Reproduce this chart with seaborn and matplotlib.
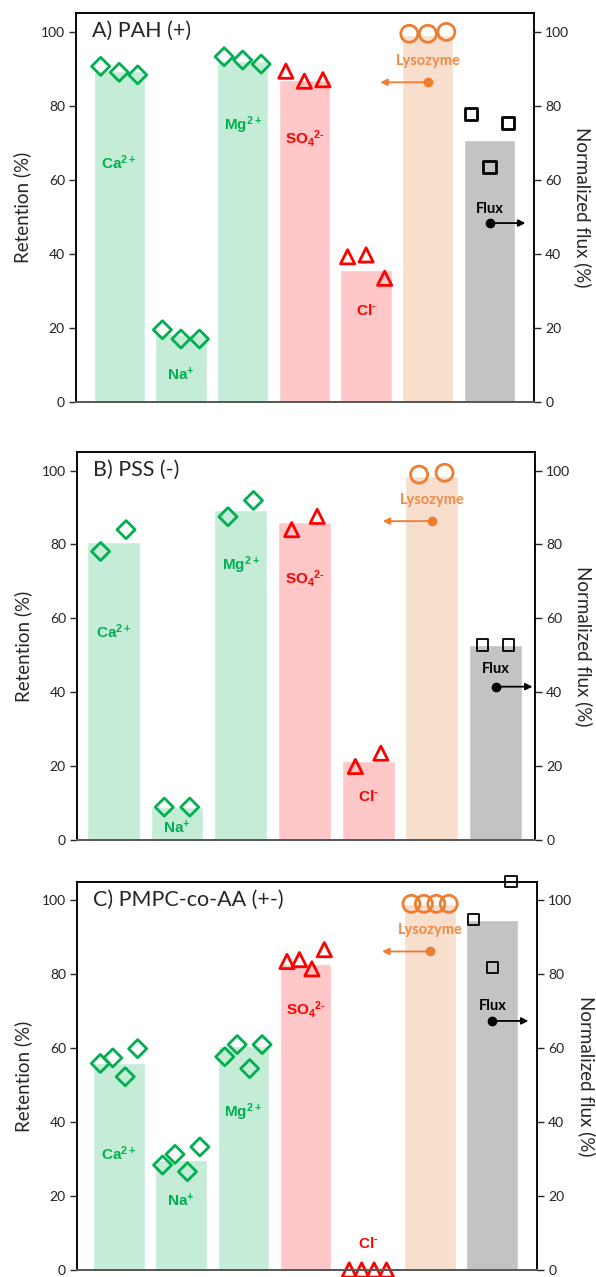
import numpy as np
import pandas as pd
import matplotlib
matplotlib.use("Agg")
import matplotlib.pyplot as plt
import seaborn as sns

sns.set_theme(style="white")
plt.rcParams["font.family"] = ["Lato", "DejaVu Sans"]
plt.rcParams["mathtext.default"] = "regular"
plt.rcParams["mathtext.fontset"] = "custom"
plt.rcParams["mathtext.rm"] = "Liberation Sans:bold"

# species in bar order
species = ["Ca", "Na", "Mg", "SO4", "Cl", "Lysozyme", "Flux"]
labels = ["Ca$^{2+}$", "Na$^{+}$", "Mg$^{2+}$", r"SO$_4$$^{\text{2-}}$", r"Cl$^{\text{-}}$",
          "Lysozyme", "Flux"]
titles = ["A) PAH (+)", "B) PSS (-)", "C) PMPC-co-AA (+-)"]

# bar heights (mean retention %, last = normalized flux %)
pah_bar = [89.3, 18.4, 92.0, 86.8, 35.7, 99.0, 70.8]
pss_bar = [80.7, 9.0, 89.4, 86.1, 21.5, 98.6, 52.8]
pmpc_bar = [55.9, 29.7, 60.5, 82.9, 0.0, 99.1, 94.8]

# individual measurements
pah_pts = [[90.6, 89.0, 88.3], [19.5, 17.0, 17.0], [93.2, 92.3, 91.2],
           [89.3, 86.6, 87.0], [39.2, 39.7, 33.4], [99.4, 99.4, 99.9],
           [77.8, 63.4, 75.3]]
pss_pts = [[78.1, 84.0], [8.9, 8.9], [87.5, 91.9], [84.0, 87.6],
           [19.9, 23.5], [98.9, 99.4], [52.8, 52.8]]
pmpc_pts = [[55.9, 57.4, 52.3, 59.9], [28.4, 31.3, 26.6, 33.3],
            [57.7, 61.0, 54.5, 61.0], [83.5, 84.0, 81.5, 86.7],
            [0.0, 0.0, 0.0, 0.0], [99.1, 99.1, 99.1, 99.1],
            [94.8, 81.8, 105.1]]

# label heights and arrow heights (data units)
pah_lab = [64.6, 7.3, 74.6, 71.0, 24.6, 92.0, 52.0]
pss_lab = [56.4, 3.4, 74.5, 70.7, 11.7, 91.9, 46.3]
pmpc_lab = [31.5, 18.7, 42.6, 70.5, 7.2, 91.9, 71.4]
pah_arrow = [86.3, 48.3]
pss_arrow = [86.3, 41.5]
pmpc_arrow = [86.2, 67.4]

green, red, orange = "#00B050", "#FF0000", "#ED7D31"
bar_colors = ["#C5ECD6", "#C5ECD6", "#C5ECD6", "#FFC7C7", "#FFC7C7", "#F8DFCD", "#C3C3C3"]
mk_colors = [green, green, green, red, red, orange, "black"]
mk_style = ["D", "D", "D", "^", "^", "o", "s"]
mk_size = [85, 85, 85, 105, 105, 150, 80]
txt_colors = [green, green, green, red, red, "#F08A45", "black"]
flux_lw = [2.0, 1.3, 1.3]
flux_ms = [80, 65, 65]

fig = plt.figure(figsize=(5.96, 12.77), dpi=100)
boxes = [[0.1275, 0.6852, 0.7685, 0.3046],
         [0.1292, 0.3422, 0.7685, 0.3038],
         [0.1292, 0.0055, 0.772, 0.3038]]
xlims = [(-0.70, 6.72), (-0.57, 6.62), (-0.675, 6.72)]

panels = [(pah_bar, pah_pts, pah_lab, pah_arrow),
          (pss_bar, pss_pts, pss_lab, pss_arrow),
          (pmpc_bar, pmpc_pts, pmpc_lab, pmpc_arrow)]


def offsets(n):
    if n == 2:
        return np.array([-0.2, 0.2])
    if n == 4:
        return np.array([-0.3, -0.1, 0.1, 0.3])
    return np.linspace(-0.3, 0.3, n)


for k, (bars, pts, labs, arr) in enumerate(panels):
    ax = fig.add_axes(boxes[k])
    ax2 = ax.twinx()
    pos = np.arange(len(species))
    df = pd.DataFrame({"pos": pos[:6], "val": bars[:6], "sp": species[:6]})
    sns.barplot(data=df, x="pos", y="val", hue="sp", palette=bar_colors[:6],
                native_scale=True, width=0.83, saturation=1, dodge=False,
                legend=False, errorbar=None, ax=ax)
    dff = pd.DataFrame({"pos": [6], "val": [bars[6]], "sp": ["Flux"]})
    sns.barplot(data=dff, x="pos", y="val", hue="sp", palette=[bar_colors[6]],
                native_scale=True, width=0.83, saturation=1, dodge=False,
                legend=False, errorbar=None, ax=ax2)

    for i in range(len(species)):
        vals = pts[i]
        xs = i + offsets(len(vals))
        target = ax2 if i == 6 else ax
        lw = flux_lw[k] if i == 6 else 2.0
        ms = flux_ms[k] if i == 6 else mk_size[i]
        sns.scatterplot(x=xs, y=vals, marker=mk_style[i], s=ms,
                        facecolor="none", edgecolor=mk_colors[i], linewidth=lw,
                        clip_on=False, zorder=4, ax=target)
        if i < 5:
            ax.text(i, labs[i], labels[i], color=txt_colors[i], ha="center", va="center",
                    fontsize=11, fontweight="bold", family="Liberation Sans", zorder=5)
        else:
            target.text(i, labs[i], labels[i], color=txt_colors[i], ha="center", va="center",
                        fontsize=10.5, fontweight="bold", zorder=5)

    # arrows pointing to the relevant axis
    ax.annotate("", xy=(5 - 0.77, arr[0]), xytext=(5, arr[0]),
                arrowprops=dict(arrowstyle="-|>", color=orange, lw=1.3,
                                shrinkA=0, shrinkB=0, mutation_scale=10), zorder=5)
    ax.plot([5], [arr[0]], "o", color=orange, ms=6, zorder=6)
    ax2.annotate("", xy=(6 + 0.58, arr[1]), xytext=(6, arr[1]),
                 arrowprops=dict(arrowstyle="-|>", color="black", lw=1.3,
                                 shrinkA=0, shrinkB=0, mutation_scale=10), zorder=5)
    ax2.plot([6], [arr[1]], "o", color="black", ms=6, zorder=6)

    for a in (ax, ax2):
        a.set_xlim(*xlims[k])
        a.set_ylim(0, 105)
        a.set_yticks(range(0, 101, 20))
        a.set_xticks([])
        a.set_xlabel("")
        for s in a.spines.values():
            s.set_color("black")
            s.set_linewidth(1.1)
        a.spines["bottom"].set_color("#595959")
        a.spines["bottom"].set_linewidth(1.4)
    ax.tick_params(axis="y", left=True, direction="out", length=5, width=1,
                   labelsize=10, labelcolor="#222222", pad=3)
    ax2.tick_params(axis="y", right=True, direction="out", length=5, width=1,
                    labelsize=10, labelcolor="#222222", pad=3)
    ax.set_ylabel("Retention (%)", fontsize=13.5, va="center")
    ax.yaxis.set_label_coords(-0.118, 0.5)
    ax2.set_ylabel("Normalized flux (%)", fontsize=13.5, rotation=270, va="center")
    ax2.yaxis.set_label_coords(1.107, 0.5)
    ax.text(0.035, 0.955, titles[k], transform=ax.transAxes, fontsize=15.5,
            ha="left", va="center", zorder=6)

fig.savefig("out.png", dpi=100)
